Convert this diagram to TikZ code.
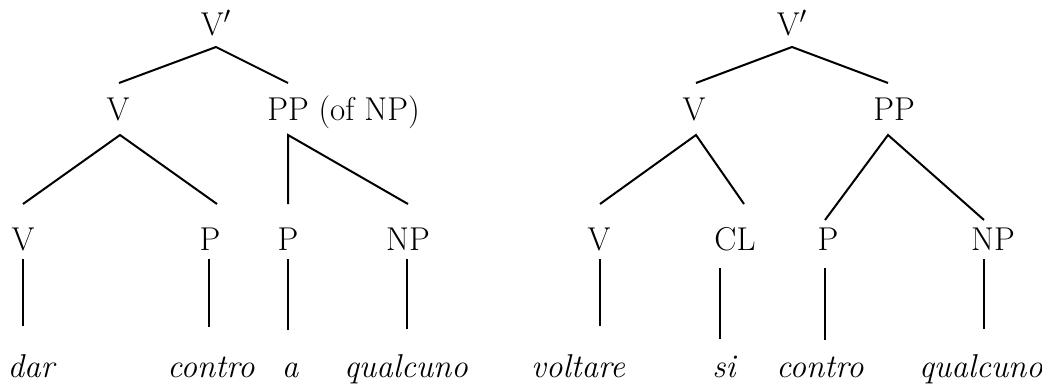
\documentclass[tikz,border=0pt]{standalone}
\usetikzlibrary{calc}
\begin{document}
\begin{tikzpicture}[x=0.5pt,y=-0.5pt,
  lbl/.style={font=\fontsize{16.5}{20}\selectfont, inner sep=0pt},
  word/.style={font=\fontsize{16.5}{20}\selectfont\itshape, inner sep=0pt, anchor=base},
  branch/.style={line width=1pt}]
\useasboundingbox (0,0) rectangle (1042,385);

% ---------- left tree: dar contro a qualcuno ----------
\node[lbl] (Lvbar) at (216,23) {V$'$};
\node[lbl] (Lv)    at (118,109) {V};
\node[lbl] (Lpp)   at (288,109) {PP};
\node[lbl, anchor=base west] (Lof) at ($(Lpp.base east)+(9,0)$) {(of NP)};
\node[lbl] (Lv2)   at (23,239) {V};
\node[lbl] (Lp1)   at (210,239) {P};
\node[lbl] (Lp2)   at (288,239) {P};
\node[lbl] (Lnp)   at (408,239) {NP};
\node[word] (Ldar) at (31,377) {dar};
\node[word] (Lcon) at (211,377) {contro};
\node[word] (La)   at (290,377) {a};
\node[word] (Lqua) at (406,377) {qualcuno};

\draw[branch] ($(Lv)+(1,-26)$) -- ($(Lvbar)+(0,24)$) -- ($(Lpp)+(0,-26)$);
\draw[branch] ($(Lv2)+(0,-35)$) -- ($(Lv)+(2,26)$) -- ($(Lp1)+(7,-35)$);
\draw[branch] ($(Lp2)+(0,-35)$) -- ($(Lpp)+(0,26)$) -- ($(Lnp)+(0,-35)$);
\draw[branch] ($(Lv2)+(0,20)$)  -- ($(Ldar)+(-8,-40)$);
\draw[branch] ($(Lp1)+(-1,20)$) -- ($(Lcon)+(-2,-40)$);
\draw[branch] ($(Lp2)+(0,20)$)  -- ($(La)+(-2,-40)$);
\draw[branch] ($(Lnp)+(-1,20)$) -- ($(Lqua)+(1,-40)$);

% ---------- right tree: voltare si contro qualcuno ----------
\node[lbl] (Rvbar) at (792,23) {V$'$};
\node[lbl] (Rv)    at (694,109) {V};
\node[lbl] (Rpp)   at (894,109) {PP};
\node[lbl] (Rv2)   at (599,239) {V};
\node[lbl] (Rcl)   at (735,239) {CL};
\node[lbl] (Rp)    at (828,239) {P};
\node[lbl] (Rnp)   at (993,239) {NP};
\node[word] (Rvol) at (578,377) {voltare};
\node[word] (Rsi)  at (724,377) {si};
\node[word] (Rcon) at (820,377) {contro};
\node[word] (Rqua) at (981,377) {qualcuno};

\draw[branch] ($(Rv)+(2,-26)$) -- ($(Rvbar)+(0,24)$) -- ($(Rpp)+(-6,-26)$);
\draw[branch] ($(Rv2)+(1,-35)$) -- ($(Rv)+(2,26)$) -- ($(Rcl)+(9,-35)$);
\draw[branch] ($(Rp)+(-3,-19)$) -- ($(Rpp)+(-6,26)$) -- ($(Rnp)+(-9,-19)$);
\draw[branch] ($(Rv2)+(1,20)$)  -- ($(Rvol)+(22,-40)$);
\draw[branch] ($(Rcl)+(-15,29)$) -- ($(Rsi)+(-4,-27)$);
\draw[branch] ($(Rp)+(-3,29)$)  -- ($(Rcon)+(5,-27)$);
\draw[branch] ($(Rnp)+(-9,20)$) -- ($(Rqua)+(3,-40)$);
\end{tikzpicture}
\end{document}
